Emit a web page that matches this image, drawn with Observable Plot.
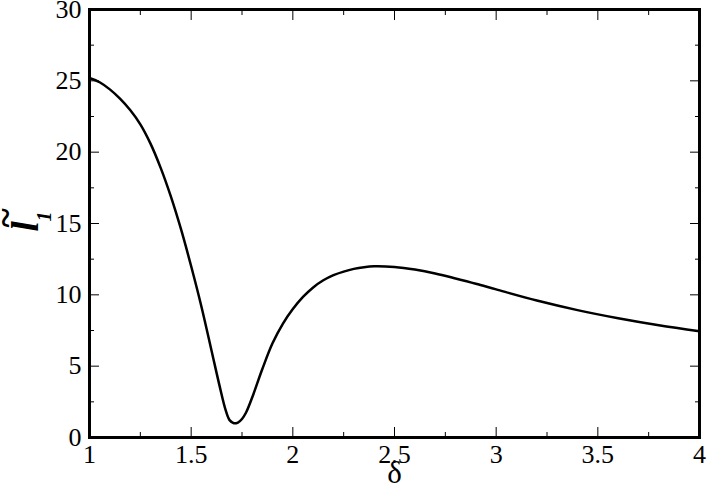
<!DOCTYPE html>
<html>
<head>
<meta charset="utf-8">
<script src="https://cdn.jsdelivr.net/npm/d3@7"></script>
<script src="https://cdn.jsdelivr.net/npm/@observablehq/plot@0.6"></script>
<style>
  html, body { margin: 0; padding: 0; background: #fff; }
  #chart svg { display: block; }
</style>
</head>
<body>
<div id="chart"></div>
<script>
const delta = [1.0, 1.05, 1.1, 1.15, 1.2, 1.25, 1.3, 1.35, 1.4, 1.45, 1.5, 1.55, 1.6, 1.64, 1.67, 1.69, 1.71, 1.73, 1.75, 1.77, 1.8, 1.85, 1.9, 1.95, 2.0, 2.05, 2.1, 2.15, 2.2, 2.25, 2.3, 2.35, 2.4, 2.5, 2.6, 2.7, 2.8, 2.9, 3.0, 3.2, 3.4, 3.6, 3.8, 4.0];
const l1 = [25.2, 24.9, 24.4, 23.75, 22.95, 21.95, 20.6, 18.9, 16.9, 14.6, 12.0, 9.2, 6.1, 3.6, 1.9, 1.2, 1.0, 1.05, 1.3, 1.75, 2.8, 4.8, 6.6, 7.95, 9.0, 9.85, 10.52, 11.02, 11.38, 11.63, 11.82, 11.94, 12.0, 11.95, 11.77, 11.5, 11.15, 10.78, 10.38, 9.6, 8.93, 8.36, 7.87, 7.45];

const xMajor = [1, 1.5, 2, 2.5, 3, 3.5, 4];
const xMinor = [1.25, 1.75, 2.25, 2.75, 3.25, 3.75];
const yMajor = [0, 5, 10, 15, 20, 25, 30];
const yMinor = [2.5, 7.5, 12.5, 17.5, 22.5, 27.5];

const xLabel = "δ";
const yLabelMain = "l";
const yLabelSub = "1";
const yLabelTilde = "~";

const data = delta.map((d, i) => ({x: d, y: l1[i]}));
const serif = "Liberation Serif";

const tickOpts = (size) => ({tickSize: size, fill: "none", label: null, strokeWidth: 1});

const chart = Plot.plot({
  width: 708,
  height: 495,
  marginLeft: 89,
  marginRight: 9,
  marginTop: 9,
  marginBottom: 58,
  x: {domain: [1, 4]},
  y: {domain: [0, 30]},
  marks: [
    // inward ticks on all four sides
    Plot.axisX(xMajor, {anchor: "bottom", ...tickOpts(-10)}),
    Plot.axisX(xMinor, {anchor: "bottom", ...tickOpts(-5)}),
    Plot.axisX(xMajor, {anchor: "top", ...tickOpts(-10)}),
    Plot.axisX(xMinor, {anchor: "top", ...tickOpts(-5)}),
    Plot.axisY(yMajor, {anchor: "left", ...tickOpts(-10)}),
    Plot.axisY(yMinor, {anchor: "left", ...tickOpts(-5)}),
    Plot.axisY(yMajor, {anchor: "right", ...tickOpts(-10)}),
    Plot.axisY(yMinor, {anchor: "right", ...tickOpts(-5)}),
    // tick labels
    Plot.axisX(xMajor, {anchor: "bottom", tickSize: 0, tickPadding: 7, fontSize: 26, fontFamily: serif, fill: "#000", label: null, tickFormat: d3.format("")}),
    Plot.axisY(yMajor, {anchor: "left", tickSize: 0, tickPadding: 8, fontSize: 26, fontFamily: serif, fill: "#000", label: null}),
    // axis titles
    Plot.text([xLabel], {frameAnchor: "bottom", dy: 45, fontSize: 31, fontFamily: serif, fill: "#000", text: d => d}),
    Plot.text([yLabelMain], {frameAnchor: "left", dx: -63, dy: 8, rotate: -90, fontSize: 37, fontFamily: serif, fontStyle: "italic", fontWeight: "bold", fill: "#000", text: d => d}),
    Plot.text([yLabelSub], {frameAnchor: "left", dx: -45, dy: -2, rotate: -90, fontSize: 20, fontFamily: serif, fontStyle: "italic", fontWeight: "bold", fill: "#000", text: d => d}),
    Plot.text([yLabelTilde], {frameAnchor: "left", dx: -83, dy: 4, rotate: -90, fontSize: 37, fontFamily: serif, fontWeight: "bold", fill: "#000", text: d => d}),
    // curve
    Plot.line(data, {x: "x", y: "y", stroke: "#000", strokeWidth: 2.5, curve: "catmull-rom"}),
    Plot.frame({stroke: "#000", strokeWidth: 3})
  ]
});
document.getElementById("chart").appendChild(chart);
</script>
</body>
</html>
